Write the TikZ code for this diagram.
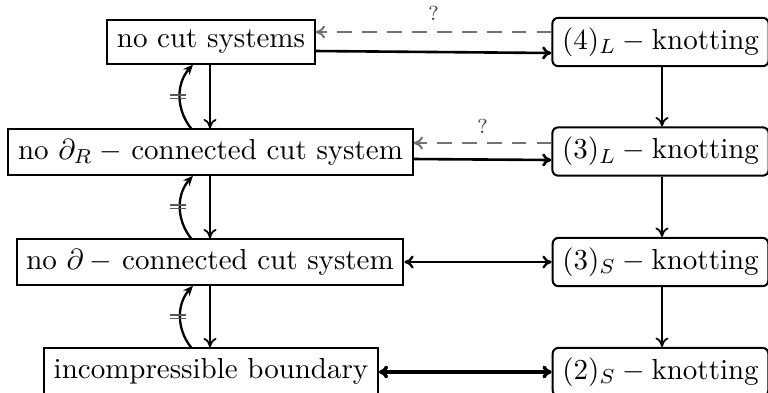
\documentclass[tikz,border=0pt]{standalone}
\usetikzlibrary{calc,arrows.meta}
\begin{document}
\begin{tikzpicture}[x=0.345pt,y=-0.345pt,
  lbox/.style={draw,line width=0.7pt,inner sep=3.33pt},
  rbox/.style={draw,line width=0.7pt,rounded corners=2pt,inner sep=3.33pt,minimum width=73.4pt},
  varr/.style={line width=0.6pt,-{To[length=3.2pt,width=4.5pt]}},
  harr/.style={line width=0.9pt,-{To[length=3.2pt,width=4.5pt]}},
  darr/.style={line width=0.7pt,gray!90!black,dash pattern=on 5pt off 3.6pt,-{To[length=3.2pt,width=4.5pt]}},
  barr/.style={line width=0.8pt,{To[length=3.2pt,width=4.5pt]}-{To[length=3.2pt,width=4.5pt]}},
  carr/.style={line width=0.8pt,-{Stealth[length=3.5pt,width=3pt]}},
  neq/.style={line width=0.55pt,gray!70!black},
  qm/.style={font=\scriptsize,inner sep=1pt,text=black!75}]
\useasboundingbox (0,0) rectangle (768,392);
% left column
\node[lbox] (A1) at (211,42) {no cut systems};
\node[lbox] (A2) at (210.5,152) {no $\partial_R\mskip\medmuskip{-}$ connected cut system};
\node[lbox] (A3) at (210,262) {no $\partial\mskip\medmuskip{-}$ connected cut system};
\node[lbox] (A4) at (211,371) {incompressible boundary};
% right column
\node[rbox] (B1) at (660.5,42) {$(4)_L-{}$knotting};
\node[rbox] (B2) at (660.5,151.5) {$(3)_L-{}$knotting};
\node[rbox] (B3) at (660.5,262) {$(3)_S-{}$knotting};
\node[rbox] (B4) at (660.5,372) {$(2)_S-{}$knotting};
% left verticals
\foreach \u/\l in {A1/A2,A2/A3,A3/A4}{
  \draw[varr] (\u.south -| 210,0) -- (\l.north -| 210,0);
  \draw[carr] (\l.north -| 191,0) to[bend left=40] (\u.south -| 193,0);
}
% right verticals
\foreach \u/\l in {B1/B2,B2/B3,B3/B4}{
  \draw[varr] (\u.south -| 662,0) -- (\l.north -| 662,0);
}
% neq marks
\foreach \m in {96.5,206.5,316.5}{
  \draw[neq] (170,\m-1.8) -- (186,\m-1.8);
  \draw[neq] (170,\m+1.8) -- (186,\m+1.8);
}
% row 1
\coordinate (d1s) at ($(B1.west)+(0,-10)$);
\draw[darr] (d1s) -- (d1s -| A1.east) node[qm,midway,above=2.5pt] {?};
\draw[harr] ($(A1.east)+(0,9)$) -- ($(B1.west)+(0,11)$);
% row 2
\coordinate (d2s) at ($(B2.west)+(0,-8.5)$);
\draw[darr] (d2s) -- (d2s -| A2.east) node[qm,midway,above=2pt] {?};
\draw[harr] ($(A2.east)+(0,7)$) -- ($(B2.west)+(0,8.5)$);
% row 3
\draw[barr] (A3.east) -- (A3.east -| B3.west);
% row 4
\draw[barr,line width=1.2pt] (A4.east |- B4.west) -- (B4.west);
\end{tikzpicture}
\end{document}
